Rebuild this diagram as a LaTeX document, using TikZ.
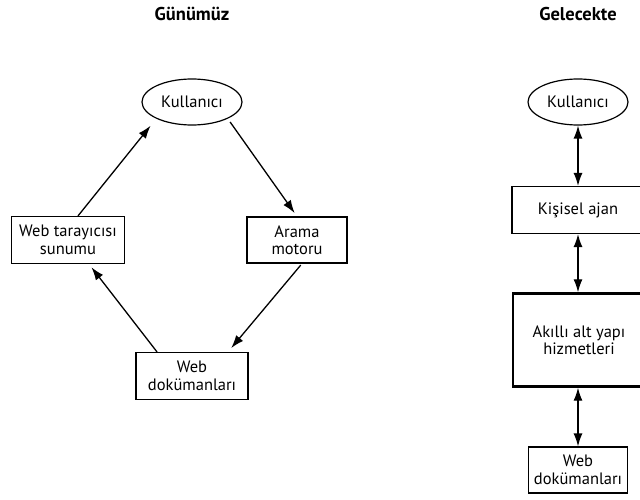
\documentclass[tikz,border=0pt]{standalone}
\usepackage{fontspec}
\setmainfont{PT Sans}
\usetikzlibrary{arrows.meta,shapes.geometric}
\begin{document}
\begin{tikzpicture}[x=1pt,y=-1pt,
  every node/.style={font=\fontsize{16.5}{17.5}\selectfont},
  tip/.style={Latex[length=13pt,width=9pt]},
  arr/.style={line width=1.3pt,-{Latex[length=13pt,width=9pt]}},
  darr/.style={line width=1.3pt,{Latex[length=13pt,width=9pt]}-{Latex[length=13pt,width=9pt]}},
  user/.style={draw,line width=1.2pt,ellipse,minimum width=100pt,minimum height=46pt,inner sep=0pt},
  box/.style={draw,line width=1.2pt,rectangle,align=center,inner sep=0pt},
  bigbox/.style={draw,line width=2.4pt,rectangle,align=center,inner sep=0pt},
  title/.style={font=\fontsize{18.5}{20}\selectfont\bfseries}]
\useasboundingbox (0,0) rectangle (640,500);
\clip (0,0) rectangle (640,500);

% --- today ---
\node[title] (t1) at (192,14) {Günümüz};
\node[user] (kul) at (192,102) {Kullanıcı};
\node[box,minimum width=113pt,minimum height=47pt] (wt) at (68,240) {Web tarayıcısı\\sunumu};
\node[box,minimum width=100pt,minimum height=46pt] (am) at (297,240) {Arama\\motoru};
\node[box,minimum width=112pt,minimum height=47pt] (wd) at (192,376) {Web\\dokümanları};

\draw[arr,shorten >=9pt] ([xshift=10pt]wt.north) -- (kul.south west);
\draw[arr,shorten <=4pt,shorten >=4pt] (kul.south east) -- (am.north);
\draw[arr,shorten <=2pt,shorten >=5pt] ([xshift=5pt]am.south) -- ([xshift=36pt]wd.north);
\draw[arr,shorten >=4pt] ([xshift=-35pt]wd.north) -- ([xshift=21pt]wt.south);

% --- future ---
\node[title] (t2) at (578,14) {Gelecekte};
\node[user] (kul2) at (578,102) {Kullanıcı};
\node[box,minimum width=132pt,minimum height=47pt] (ka) at (578,210) {Kişisel ajan};
\node[bigbox,minimum width=132pt,minimum height=93pt] (ak) at (579,340) {Akıllı alt yapı\\hizmetleri};
\node[box,minimum width=99pt,minimum height=46pt] (wd2) at (578,470) {Web\\dokümanları};

\draw[darr] (kul2.south) -- (ka.north);
\draw[darr] (ka.south) -- (ak.north -| ka.south);
\draw[darr] (ak.south -| wd2.north) -- (wd2.north);
\end{tikzpicture}
\end{document}
